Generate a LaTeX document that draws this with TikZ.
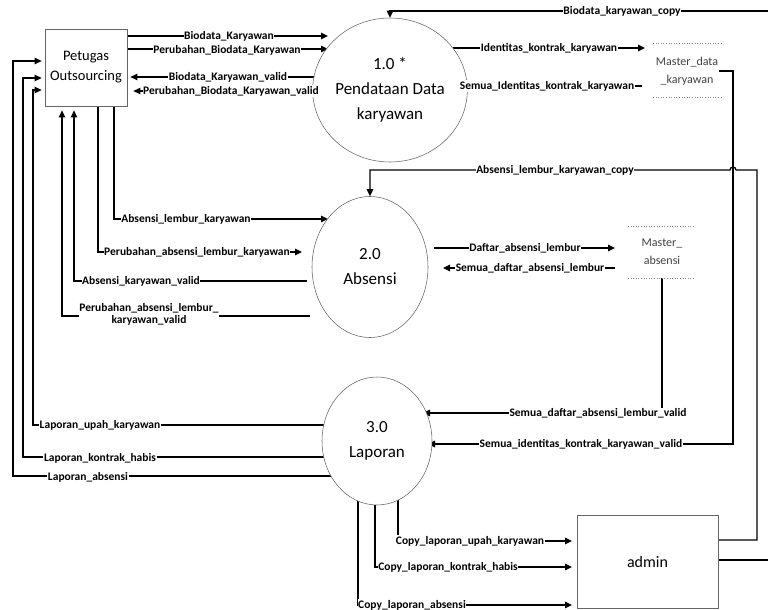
\documentclass[tikz,border=0pt]{standalone}
\usepackage{fontspec}
\setmainfont{Carlito}
\usetikzlibrary{arrows.meta,shapes.geometric,calc}
\pgfdeclarelayer{bg}
\pgfsetlayers{bg,main}
\begin{document}
\begin{tikzpicture}[x=1pt,y=-1pt,
  flow/.style={line width=1.3pt,draw=black},
  arr/.style={flow,-{Triangle[length=7pt,width=6.5pt]}},
  lbl/.style={font=\fontsize{11.5}{12}\selectfont\bfseries,fill=white,inner sep=0.6pt,align=center},
  proc/.style={ellipse,draw=black!60,line width=0.55pt,fill=white,font=\fontsize{17}{25}\selectfont,align=center,inner sep=0pt},
  ent/.style={rectangle,draw=black!60,line width=0.8pt,fill=white,align=center,inner sep=0pt},
  storetxt/.style={font=\fontsize{12}{18}\selectfont,text=black!75,align=center,inner sep=1pt},
  storeline/.style={draw=black!45,line width=0.6pt,dotted}]
\useasboundingbox (0,0) rectangle (768,610);

% entities and processes
\node[ent,minimum width=82pt,minimum height=77pt,font=\fontsize{14.5}{20}\selectfont] (po) at (86,67.5) {Petugas\\Outsourcing};
\node[proc,minimum width=116pt,minimum height=144pt] (p1) at (390,90) {1.0 *\\Pendataan Data\\karyawan};
\node[proc,minimum width=116pt,minimum height=141pt] (p2) at (370,267) {2.0\\Absensi};
\node[proc,minimum width=110pt,minimum height=128pt] (p3) at (377,441) {3.0\\Laporan};
\node[ent,minimum width=141pt,minimum height=93pt,font=\fontsize{16}{19}\selectfont] (adm) at (647.5,561.5) {admin};

% data stores
\node[storetxt] (ms1) at (687,71) {Master\_data\\\_karyawan};
\draw[storeline] (653,43) -- (721,43);
\draw[storeline] (653,97) -- (721,97);
\node[storetxt] (ms2) at (662,252) {Master\_\\absensi};
\draw[storeline] (628,226) -- (695,226);
\draw[storeline] (628,278) -- (695,278);

\begin{pgfonlayer}{bg}
\begin{scope}
\clip (0,0) rectangle (768,610);
% Petugas -> 1.0
\draw[arr] (po.east |- 0,36) -- (328,36);
\draw[arr] (po.east |- 0,49) -- (328,49);
\draw[arr,shorten >=3pt] (327,77) -- (po.east |- 0,77);
\draw[arr,shorten >=6pt] (321,91) -- (po.east |- 0,91);
% 1.0 <-> Master_data_karyawan
\draw[arr] (453,48) -- (645,48);
\draw[arr] (642,86) -- (455,86);
% admin -> 1.0 (copy)
\draw[arr] (adm.east |- 0,560) -- (770,560) -- (770,11) -- (390,11) -- (p1.north);
% admin -> 2.0 (copy)
\draw[arr] (adm.east |- 0,540) -- (757,540) -- (757,170) -- (736,170) arc[start angle=0,end angle=-180,radius=3] -- (370,170) -- (p2.north);
% Master_data_karyawan -> 3.0
\draw[arr] (ms1.east) -| (733,444) -- (428,444);
% Petugas -> 2.0
\draw[arr] (po.south -| 114,0) |- (328,219);
\draw[arr] (po.south -| 98,0) |- (302,252);
\draw[arr,shorten >=4pt] (307,281) -| (po.south -| 74,0);
\draw[arr,shorten >=4pt] (310,316) -| (po.south -| 62,0);
% 2.0 <-> Master_absensi
\draw[arr] (434,248) -- (615,248);
\draw[arr] (615,268) -- (443,268);
% Master_absensi -> 3.0
\draw[arr] (ms2.center |- 0,278) -- (662,413) -- (423,413);
% 3.0 -> Petugas
\draw[arr,shorten >=3pt] (p3.center |- 0,425) -- (33,425) |- (po.west |- 0,90);
\draw[arr,shorten >=3pt] (p3.center |- 0,457) -- (23,457) |- (po.west |- 0,78);
\draw[arr,shorten >=3pt] (p3.center |- 0,476) -- (13,476) |- (po.west |- 0,61);
% 3.0 -> admin
\draw[arr] (p3.center -| 398,0) -- (398,541) -- (572,541);
\draw[arr] (p3.center -| 375,0) -- (375,567) -- (572,567);
\draw[arr] (p3.center -| 358,0) -- (358,605) -- (572,605);
\end{scope}
\end{pgfonlayer}

% labels
\node[lbl] (l1) at (229,36) {Biodata\_Karyawan};
\node[lbl] (l2) at (227,50) {Perubahan\_Biodata\_Karyawan};
\node[lbl] (l3) at (228,77) {Biodata\_Karyawan\_valid};
\node[lbl] (l4) at (231,91) {Perubahan\_Biodata\_Karyawan\_valid};
\node[lbl] (l5) at (622,11) {Biodata\_karyawan\_copy};
\node[lbl] (l6) at (549,48) {Identitas\_kontrak\_karyawan};
\node[lbl] (l7) at (547,86) {Semua\_Identitas\_kontrak\_karyawan};
\node[lbl] (l8) at (555,170) {Absensi\_lembur\_karyawan\_copy};
\node[lbl] (l9) at (186,219) {Absensi\_lembur\_karyawan};
\node[lbl] (l10) at (197,252) {Perubahan\_absensi\_lembur\_karyawan};
\node[lbl] (l11) at (141,281) {Absensi\_karyawan\_valid};
\node[lbl] (l12) at (149,314) {Perubahan\_absensi\_lembur\_\\karyawan\_valid};
\node[lbl] (l13) at (525,248) {Daftar\_absensi\_lembur};
\node[lbl] (l14) at (530,268) {Semua\_daftar\_absensi\_lembur};
\node[lbl] (l15) at (598,413) {Semua\_daftar\_absensi\_lembur\_valid};
\node[lbl] (l16) at (581,444) {Semua\_identitas\_kontrak\_karyawan\_valid};
\node[lbl] (l17) at (100,425) {Laporan\_upah\_karyawan};
\node[lbl] (l18) at (100,458) {Laporan\_kontrak\_habis};
\node[lbl] (l19) at (88,477) {Laporan\_absensi};
\node[lbl] (l20) at (470,541) {Copy\_laporan\_upah\_karyawan};
\node[lbl] (l21) at (448,567) {Copy\_laporan\_kontrak\_habis};
\node[lbl] (l22) at (412,605) {Copy\_laporan\_absensi};
\end{tikzpicture}
\end{document}
